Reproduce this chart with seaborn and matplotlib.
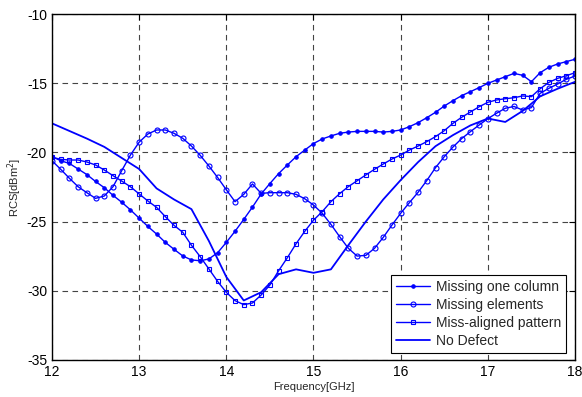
import numpy as np
import pandas as pd
import matplotlib
matplotlib.use('Agg')
import matplotlib.pyplot as plt
import seaborn as sns

# frequency grid for the marker series (0.1 GHz steps)
freq = np.round(np.arange(12.0, 18.01, 0.1), 1)

missing_column = [
    -20.3, -20.6, -20.8, -21.2, -21.6, -22.1, -22.55, -23.1, -23.6, -24.15,
    -24.75, -25.35, -25.9, -26.5, -27.0, -27.48, -27.77, -27.83, -27.7, -27.25,
    -26.5, -25.7, -24.84, -23.95, -23.0, -22.25, -21.53, -20.91, -20.31, -19.83,
    -19.36, -19.03, -18.81, -18.62, -18.53, -18.48, -18.48, -18.48, -18.53, -18.48,
    -18.38, -18.14, -17.85, -17.49, -17.1, -16.65, -16.26, -15.9, -15.61, -15.32,
    -15.01, -14.77, -14.53, -14.29, -14.43, -14.89, -14.24, -13.85, -13.61, -13.44,
    -13.27,
]

missing_elements = [
    -20.6, -21.22, -21.87, -22.48, -22.91, -23.32, -23.15, -22.48, -21.32, -20.19,
    -19.26, -18.67, -18.38, -18.38, -18.62, -18.98, -19.54, -20.21, -20.98, -21.81,
    -22.7, -23.56, -23.03, -22.28, -22.96, -22.91, -22.91, -22.91, -23.03, -23.35,
    -23.8, -24.4, -25.2, -26.09, -26.93, -27.49, -27.44, -26.93, -26.14, -25.25,
    -24.4, -23.63, -22.88, -22.03, -21.1, -20.31, -19.61, -19.0, -18.5, -18.02,
    -17.56, -17.17, -16.81, -16.68, -16.94, -16.76, -15.73, -15.37, -15.06, -14.72,
    -14.48,
]

miss_aligned = [
    -20.35, -20.5, -20.55, -20.55, -20.69, -20.91, -21.27, -21.68, -22.07, -22.48,
    -23.0, -23.51, -23.97, -24.64, -25.27, -25.77, -26.71, -27.53, -28.42, -29.32,
    -30.11, -30.71, -31.0, -30.88, -30.3, -29.58, -28.55, -27.61, -26.6, -25.7,
    -24.9, -24.28, -23.56, -22.98, -22.47, -22.05, -21.63, -21.22, -20.84, -20.48,
    -20.19, -19.83, -19.54, -19.22, -18.86, -18.43, -17.9, -17.46, -17.08, -16.7,
    -16.38, -16.21, -16.12, -16.05, -15.92, -15.97, -15.4, -14.94, -14.65, -14.46,
    -14.24,
]

# no defect curve has coarser sampling
freq_nd = [12.0, 12.2, 12.4, 12.6, 12.8, 13.0, 13.2, 13.4, 13.6, 13.8,
           14.0, 14.2, 14.4, 14.6, 14.8, 15.0, 15.2, 15.4, 15.6, 15.8,
           16.0, 16.2, 16.4, 16.6, 16.8, 17.0, 17.2, 17.4, 17.6, 17.8, 18.0]
no_defect = [-17.9, -18.45, -19.0, -19.6, -20.4, -21.2, -22.6, -23.4, -24.1, -26.4,
             -29.0, -30.7, -30.1, -28.8, -28.45, -28.7, -28.45, -26.7, -25.0, -23.4,
             -22.0, -20.7, -19.55, -18.75, -18.05, -17.55, -17.8, -17.0, -15.95, -15.4,
             -14.9]

sns.set_style('white')
plt.rcParams['font.family'] = ['Liberation Sans', 'DejaVu Sans']
plt.rcParams['axes.unicode_minus'] = False

fig = plt.figure(figsize=(5.82, 3.97), dpi=100)
ax = fig.add_axes([0.0893, 0.0932, 0.8987, 0.8715])

blue = '#0000ff'

df_mc = pd.DataFrame({'f': freq, 'rcs': missing_column})
df_me = pd.DataFrame({'f': freq, 'rcs': missing_elements})
df_ma = pd.DataFrame({'f': freq, 'rcs': miss_aligned})
df_nd = pd.DataFrame({'f': freq_nd, 'rcs': no_defect})

sns.lineplot(data=df_mc, x='f', y='rcs', ax=ax, color=blue, lw=1,
             marker='.', markersize=5, mec=blue, label='Missing one column')
sns.lineplot(data=df_me, x='f', y='rcs', ax=ax, color=blue, lw=1,
             marker='o', markersize=3.6, mfc='none', mec=blue, mew=0.8,
             label='Missing elements')
sns.lineplot(data=df_ma, x='f', y='rcs', ax=ax, color=blue, lw=1,
             marker='s', markersize=3.4, mfc='none', mec=blue, mew=0.8,
             label='Miss-aligned pattern')
sns.lineplot(data=df_nd, x='f', y='rcs', ax=ax, color=blue, lw=1.3,
             label='No Defect')

ax.set_xlim(12, 18)
ax.set_ylim(-35, -10)
ax.set_xticks(range(12, 19))
ax.set_yticks(range(-35, -9, 5))
ax.grid(True, color='#444444', linestyle=(0, (5, 4)), linewidth=0.8)
ax.tick_params(direction='in', length=4, labelsize=10, top=True, right=True,
               colors='black')
for s in ax.spines.values():
    s.set_color('black')
    s.set_linewidth(1)

ax.set_xlabel('Frequency[GHz]', fontsize=8, labelpad=2)
ax.set_ylabel('RCS[dBm$^2$]', fontsize=8, labelpad=2)

leg = ax.legend(loc='lower right', bbox_to_anchor=(0.983, 0.02), fontsize=10,
                frameon=True, fancybox=False, edgecolor='black', framealpha=1,
                borderpad=0.35, labelspacing=0.3, handlelength=2.5,
                handletextpad=0.4, borderaxespad=0)
leg.get_frame().set_linewidth(0.8)

fig.savefig('out.png', dpi=100)
